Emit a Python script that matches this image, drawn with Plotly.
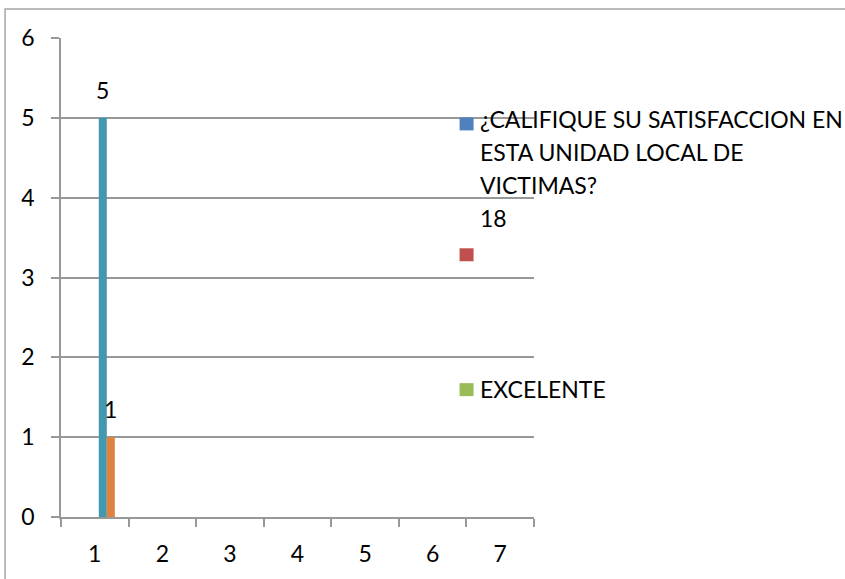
import textwrap
import plotly.graph_objects as go

# ---- data ----
categories = ["1", "2", "3", "4", "5", "6", "7"]
series_names = [
    "¿CALIFIQUE SU SATISFACCION EN ESTA UNIDAD LOCAL DE VICTIMAS?",
    "18",
    "EXCELENTE",
    "Serie 4",
    "Serie 5",
    "Serie 6",
    "Serie 7",
]
series_values = [
    [None],
    [None],
    [None],
    [None],
    [5],
    [1],
    [None],
]
series_colors = ["#4F81BD", "#C0504D", "#9BBB59", "#8064A2", "#4198AF", "#E0823D", "#2C4D75"]
legend_count = 3
y_ticks = [0, 1, 2, 3, 4, 5, 6]

# ---- layout constants (pixels) ----
W, H = 845, 579
L, R, T, B = 61, 534.5, 38, 517.5
PW, PH = R - L, B - T
FONT = "Lato"
FS = 23
GRID = "#989898"
BARGAP = 0.17


def px_x(x):
    return (x - L) / PW


def px_y(y):
    return (B - y) / PH


fig = go.Figure()
n_series = len(series_names)
group_w = 1 - BARGAP
bar_w = group_w / n_series
annotations = []
for k, (name, vals, col) in enumerate(zip(series_names, series_values, series_colors)):
    fig.add_trace(go.Bar(
        x=categories[:len(vals)],
        y=vals,
        name=name,
        marker=dict(color=col, line=dict(width=0)),
        showlegend=False,
    ))
    # data labels (above the bar, as in the reference)
    for ci, v in enumerate(vals):
        if v is None:
            continue
        annotations.append(dict(
            xref="x", yref="y", x=ci - group_w / 2 + (k + 0.5) * bar_w, y=v,
            text=str(v), showarrow=False, xanchor="center", yanchor="middle",
            yshift=28, font=dict(family=FONT, size=FS, color="#000000")))

shapes = [
    # outer chart border (right/bottom edges fall outside the picture)
    dict(type="rect", xref="paper", yref="paper",
         x0=px_x(5), x1=px_x(852), y0=px_y(9), y1=px_y(590),
         line=dict(color="#a6a6a6", width=1.5), fillcolor="rgba(0,0,0,0)", layer="below"),
]

# manual legend reproducing the reference's odd layout
line_h = 33
flow_y = 119
marker_ys = [124, 255, 390]
text_starts = [119, None, 389]
for i in range(legend_count):
    my = marker_ys[i]
    shapes.append(dict(type="rect", xref="paper", yref="paper",
                       x0=px_x(460), x1=px_x(474), y0=px_y(my + 6.5), y1=px_y(my - 6.5),
                       fillcolor=series_colors[i], line=dict(width=0)))
    lines = textwrap.wrap(series_names[i], 29)
    start = text_starts[i] if text_starts[i] is not None else flow_y
    for j, ln in enumerate(lines):
        annotations.append(dict(xref="paper", yref="paper", x=px_x(478), y=px_y(start + j * line_h),
                                text=ln, showarrow=False, xanchor="left", yanchor="middle",
                                font=dict(family=FONT, size=FS, color="#000000")))
    flow_y = start + len(lines) * line_h

fig.update_layout(
    width=W, height=H,
    margin=dict(l=L, r=W - R, t=T, b=H - B, pad=0),
    paper_bgcolor="white", plot_bgcolor="white",
    barmode="group", bargap=BARGAP, bargroupgap=0,
    font=dict(family=FONT, size=FS, color="#000000"),
    shapes=shapes, annotations=annotations,
    showlegend=False,
)
fig.update_xaxes(
    type="category", categoryorder="array", categoryarray=categories,
    range=[-0.5, len(categories) - 0.5],
    tickson="boundaries", ticks="outside", ticklen=8, tickcolor=GRID, tickwidth=1.5,
    showline=True, linecolor=GRID, linewidth=1.5,
    showgrid=False, zeroline=False, ticklabelstandoff=16,
    tickfont=dict(family=FONT, size=FS, color="#000000"),
)
fig.update_yaxes(
    range=[0, 6], tickvals=y_ticks, ticktext=[str(v) for v in y_ticks],
    ticks="outside", ticklen=8, tickcolor=GRID, tickwidth=1.5,
    showline=True, linecolor=GRID, linewidth=1.5,
    showgrid=True, gridcolor=GRID, gridwidth=1.5, zeroline=False,
    ticklabelstandoff=12,
    tickfont=dict(family=FONT, size=FS, color="#000000"),
)
fig.write_html("out.html", config={"displayModeBar": False},
               post_script="document.body.style.margin='0';")
